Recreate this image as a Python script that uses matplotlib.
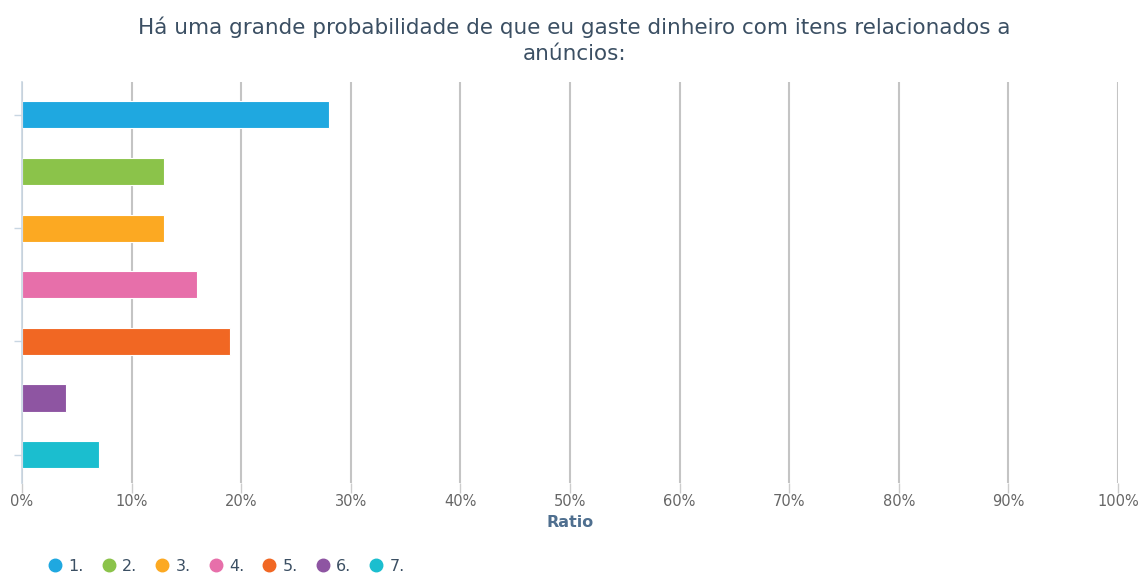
import matplotlib
matplotlib.use("Agg")
import matplotlib.pyplot as plt
from matplotlib.lines import Line2D
from matplotlib.ticker import FuncFormatter, MultipleLocator

plt.rcParams["font.family"] = ["DejaVu Sans"]

title = "Há uma grande probabilidade de que eu gaste dinheiro com itens relacionados a\nanúncios:"
categories = ["1.", "2.", "3.", "4.", "5.", "6.", "7."]
values = [28, 13, 13, 16, 19, 4, 7]
colors = ["#1fa8e0", "#8bc34a", "#fca922", "#e76faa", "#f16723", "#8e55a2", "#1bbecf"]

fig = plt.figure(figsize=(11.42, 5.74), dpi=100)
ax = fig.add_axes([22/1142, 1-483/574, (1118-22)/1142, (483-82)/574])

pos = list(range(len(categories)))
ax.barh(pos, values, height=0.48, color=colors, edgecolor="white", linewidth=0.8, zorder=3)
ax.set_xlim(0, 100)
ax.set_ylim(6.5, -0.58)

ax.xaxis.set_major_locator(MultipleLocator(10))
ax.xaxis.set_major_formatter(FuncFormatter(lambda v, p: f"{int(v)}%"))
ax.grid(axis="x", color="#c4c4c4", linewidth=1.5, zorder=0)
ax.tick_params(axis="x", colors="#cccccc", length=7, width=1, labelcolor="#666666", labelsize=10.5, pad=1)
ax.set_yticks([0, 2, 4, 6])
ax.set_yticklabels([])
ax.tick_params(axis="y", colors="#c8d6e2", length=6, width=1)

for s in ["top", "right", "bottom"]:
    ax.spines[s].set_visible(False)
ax.spines["left"].set_color("#c8d6e2")
ax.spines["left"].set_linewidth(1.2)
ax.spines["left"].set_zorder(4)

ax.set_xlabel("Ratio", fontsize=11.5, fontweight="bold", color="#4f6f8f", labelpad=4)

fig.text(0.503, 1 - 16/574, title, ha="center", va="top", fontsize=15.5, color="#3b4f63", linespacing=1.4)

handles = [Line2D([0], [0], marker="o", linestyle="", markersize=9, markerfacecolor=c, markeredgecolor=c) for c in colors]
fig.legend(handles, categories, loc="lower left", bbox_to_anchor=(0.027, -0.025), ncol=7, frameon=False,
           handletextpad=0.25, columnspacing=0.95, fontsize=11.5, labelcolor="#3b4f63", handlelength=1.2)

fig.savefig("out.png", dpi=100)
